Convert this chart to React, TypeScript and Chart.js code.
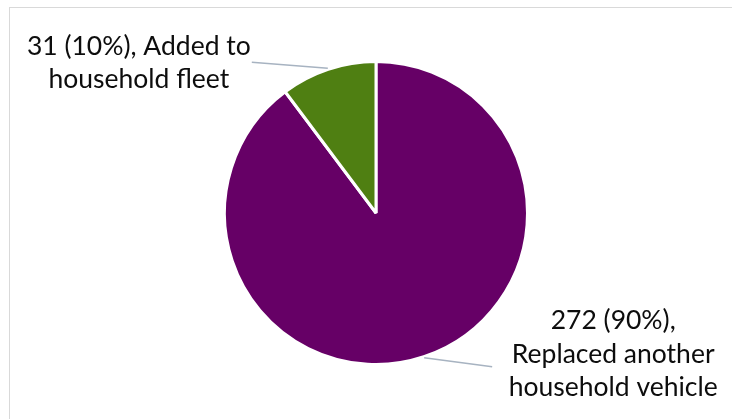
import React, { useEffect, useRef } from "react";
import { Chart, registerables } from "chart.js";

Chart.register(...registerables);

const categories = ["Replaced another household vehicle", "Added to household fleet"];
const counts = [272, 31];
const percents = ["90%", "10%"];
const labelLines = [
  ["272 (90%),", "Replaced another", "household vehicle"],
  ["31 (10%), Added to", "household fleet"],
];
const colors = ["#660066", "#4F7F12"];

const FONT = "26.5px Lato, 'Open Sans', sans-serif";

const labelPlugin = {
  id: "pieLabels",
  afterDraw(chart: any) {
    const ctx = chart.ctx;
    const meta = chart.getDatasetMeta(0);
    ctx.save();
    meta.data.forEach((arc: any, i: number) => {
      const { x, y, startAngle, endAngle, outerRadius } = arc.getProps(
        ["x", "y", "startAngle", "endAngle", "outerRadius"],
        true
      );
      const mid = (startAngle + endAngle) / 2;
      const ax = x + Math.cos(mid) * (outerRadius + 1);
      const ay = y + Math.sin(mid) * (outerRadius + 1);
      const right = Math.cos(mid) > 0;
      const ex = right ? ax + 68 : ax - 76;
      const ey = right ? ay + 9 : ay - 6;
      ctx.strokeStyle = "#A7B3C1";
      ctx.lineWidth = 1.5;
      ctx.beginPath();
      ctx.moveTo(ax, ay);
      ctx.lineTo(ex, ey);
      ctx.stroke();
      ctx.fillStyle = "#0D0D0D";
      ctx.font = FONT;
      ctx.textAlign = "center";
      ctx.textBaseline = "middle";
      const lines = labelLines[i];
      const lh = 33.5;
      const cx = right ? ex + 121 : ex - 113;
      const cy0 = right ? ey - 46 : ey - 16;
      lines.forEach((t, k) => ctx.fillText(t, cx, cy0 + k * lh));
    });
    ctx.restore();
  },
};

export default function App() {
  const ref = useRef<HTMLCanvasElement | null>(null);
  useEffect(() => {
    if (!ref.current) return;
    const chart = new Chart(ref.current, {
      type: "pie",
      data: {
        labels: categories,
        datasets: [
          {
            data: counts,
            backgroundColor: colors,
            borderColor: "#FFFFFF",
            borderWidth: 3,
          },
        ],
      },
      options: {
        animation: false,
        responsive: false,
        maintainAspectRatio: false,
        layout: { padding: { left: 20, right: 0, top: 60, bottom: 53 } },
        plugins: {
          legend: { display: false },
          tooltip: { enabled: false },
        },
      },
      plugins: [labelPlugin],
    });
    return () => chart.destroy();
  }, []);
  return (
    <div
      style={{
        position: "fixed",
        left: 0,
        top: 0,
        width: 732,
        height: 419,
        background: "#fff",
        overflow: "hidden",
      }}
    >
      <div
        style={{
          position: "absolute",
          left: 9,
          top: 7,
          width: 800,
          height: 500,
          border: "1px solid #D9D9D9",
        }}
      />
      <canvas
        ref={ref}
        width={732}
        height={419}
        style={{ position: "absolute", left: 0, top: 0, width: 732, height: 419 }}
      />
    </div>
  );
}
